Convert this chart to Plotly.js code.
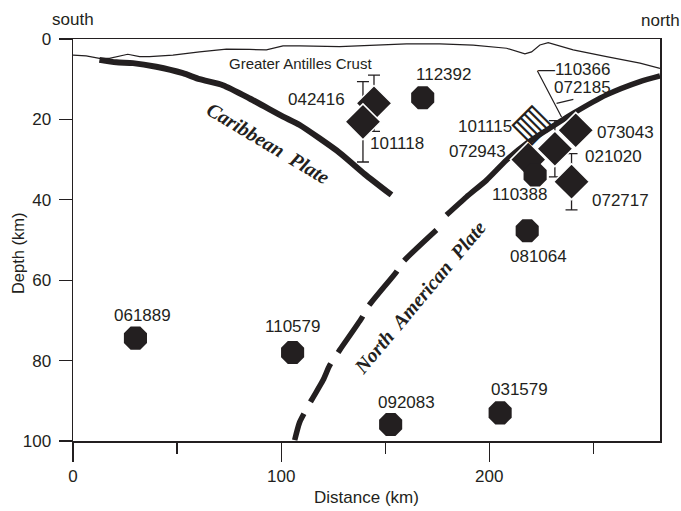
<!DOCTYPE html>
<html><head><meta charset="utf-8">
<script src="https://cdn.plot.ly/plotly-3.0.1.min.js"></script>
<style>html,body{margin:0;padding:0;background:#fff}</style>
</head><body><div id="chart" style="width:681px;height:511px"></div>
<script>
// ---- data ----
// earthquakes plotted as octagons (distance km, depth km)
const octNames = ['061889','110579','092083','031579','081064','112392','110388'];
const octX = [30.0, 105.5, 152.6, 205.2, 218.2, 168.0, 222.0];
const octY = [74.4, 78.0, 95.9, 93.0, 47.7, 14.6, 33.8];

// earthquakes plotted as diamonds, with depth uncertainty (km)
const diaNames = ['042416','101118','072943','021020','072717','073043'];
const diaX = [144.6, 139.3, 218.7, 231.5, 239.5, 241.5];
const diaY = [16.0, 20.6, 30.0, 27.3, 35.5, 22.7];
const diaErr = [7, 10, 0, 7, 7, 0];

// event drawn as hatched box
const boxNames = ['101115'];
const boxX = [219.5];
const boxY = [21.0];

// events labelled by leader lines
const leaderNames = ['110366','072185'];
const leaderX = [234.7, 232.3];
const leaderY = [19.4, 16.0];

// topography (top of Greater Antilles crust)
const surfX = [0, 6.3, 12.7, 17.5, 26.3, 32, 36.8, 48, 60.8, 73.7, 84.9, 92.9, 100.9, 108.9, 128.1, 144.1, 160.2, 176.2, 192.2, 208.3, 217.1, 220.3, 224.3, 228.3, 233.9, 240.3, 256.3, 272.4, 282];
const surfY = [4.0, 4.2, 4.8, 4.8, 3.8, 4.4, 4.4, 4.0, 3.2, 2.5, 2.6, 2.7, 1.7, 1.7, 1.9, 1.5, 1.2, 1.2, 1.5, 2.3, 3.7, 3.2, 1.5, 0.9, 1.7, 2.7, 4.4, 6.0, 7.3];

// Caribbean plate
const caribX = [12.7, 20.8, 28.8, 40.0, 52.8, 60.8, 72.0, 84.9, 100.9, 108.9, 128.1, 140.1, 153.0];
const caribY = [5.2, 5.8, 6.0, 6.9, 8.5, 10.0, 11.5, 14.8, 19.3, 21.4, 28.3, 33.6, 38.8];

// North American plate (solid, then inferred/dashed)
const naX = [282, 272.4, 256.3, 240.3, 227.5, 217.9, 208.3, 198.7, 189.0, 179.4];
const naY = [9.2, 10.6, 13.9, 18.5, 22.7, 26.0, 30.1, 35.1, 39.3, 43.8];
const naDashX = [174.6, 158.6, 155.4, 141.7, 138.6, 128.1, 123.3, 120.1, 114.5, 108.9, 106.5];
const naDashY = [47.5, 55.4, 57.9, 66.6, 69.5, 77.4, 81.2, 84.9, 89.9, 95.3, 99.8];

const xTickVals = [0, 100, 200];
const yTickVals = [0, 20, 40, 60, 80, 100];

// ---- styles ----
const INK = '#231f20';
const SANS = 'Liberation Sans, Arial, sans-serif';
const SERIF = 'Liberation Serif, Times New Roman, serif';
// label offsets in px [dx, dy(down)] relative to each event
const labelOffset = {
  '061889':[7,-23], '110579':[0,-26], '092083':[16,-22], '031579':[19,-23],
  '081064':[11,26], '112392':[21,-23], '110388':[-16,20],
  '042416':[-57,-4], '101118':[34,22], '072943':[-51,-8], '021020':[59,8],
  '072717':[49,19], '073043':[50,2], '101115':[-45,3]
};
const leaderTail = {'110366':[-25,-47.7], '072185':[18.3,-4.3]};
const leaderLabel = {'110366':{dx:-25, dy:-47.7, text:'—110366', anchor:'left'},
                     '072185':{dx:25.8, dy:-16, text:'072185', anchor:'center'}};

const traces = [
  {x: surfX, y: surfY, mode:'lines', line:{color:INK, width:1.2}, hoverinfo:'skip'},
  {x: caribX, y: caribY, mode:'lines', line:{color:INK, width:6, shape:'spline', smoothing:0.6}, hoverinfo:'skip'},
  {x: naX, y: naY, mode:'lines', line:{color:INK, width:5.5, shape:'spline', smoothing:0.6}, hoverinfo:'skip'},
  {x: naDashX, y: naDashY, mode:'lines', line:{color:INK, width:5.5, dash:'44px,13px', shape:'spline', smoothing:0.6}, hoverinfo:'skip'},
  {x: diaX, y: diaY, mode:'markers', text: diaNames,
   marker:{symbol:'diamond', size:27.5, color:INK, line:{color:'#fff', width:1.5}},
   error_y:{type:'data', array: diaErr, visible:true, color:INK, thickness:1.3, width:6}},
  {x: octX, y: octY, mode:'markers', text: octNames,
   marker:{symbol:'octagon', size:25, color:INK, line:{width:0}}}
];

const annotations = [];
function addLabel(name, x, y) {
  const o = labelOffset[name];
  annotations.push({x:x, y:y, xref:'x', yref:'y', text:name, showarrow:false,
    xshift:o[0], yshift:-o[1], font:{family:SANS, size:17, color:INK}});
}
octNames.forEach((n,i)=>addLabel(n, octX[i], octY[i]));
diaNames.forEach((n,i)=>addLabel(n, diaX[i], diaY[i]));
boxNames.forEach((n,i)=>{
  addLabel(n, boxX[i], boxY[i]);
  annotations.push({x:boxX[i], y:boxY[i], xref:'x', yref:'y', text:'▥', showarrow:false,
    textangle:-45, font:{family:'DejaVu Sans', size:38, color:INK}});
});
leaderNames.forEach((n,i)=>{
  const t = leaderTail[n], l = leaderLabel[n];
  annotations.push({x:leaderX[i], y:leaderY[i], xref:'x', yref:'y', text:'', showarrow:true,
    arrowhead:0, arrowwidth:1.2, arrowcolor:INK, ax:t[0], ay:t[1], standoff:0, startstandoff:0});
  annotations.push({x:leaderX[i], y:leaderY[i], xref:'x', yref:'y', text:l.text, showarrow:false,
    xanchor:l.anchor, xshift:l.dx, yshift:-l.dy, borderpad:0,
    font:{family:SANS, size:17, color:INK}});
});
// region labels
annotations.push({x:109.1, y:6.0, xref:'x', yref:'y', text:'Greater Antilles Crust', showarrow:false,
  font:{family:SANS, size:15, color:INK}});
annotations.push({x:93.7, y:25.8, xref:'x', yref:'y', text:'Caribbean&nbsp; Plate', showarrow:false,
  textangle:31, font:{family:SERIF, size:20, color:INK, weight:'bold', style:'italic'}});
annotations.push({x:166.6, y:64.1, xref:'x', yref:'y', text:'North&nbsp; American&nbsp; Plate', showarrow:false,
  textangle:-50, font:{family:SERIF, size:20, color:INK, weight:'bold', style:'italic'}});
annotations.push({x:0, y:1.049, xref:'paper', yref:'paper', text:'south', showarrow:false,
  xanchor:'center', yanchor:'middle', font:{family:SANS, size:17, color:INK}});
annotations.push({x:1, y:1.047, xref:'paper', yref:'paper', text:'north', showarrow:false,
  xanchor:'center', yanchor:'middle', font:{family:SANS, size:17, color:INK}});
// y-axis title placed to match the original figure
annotations.push({x:-0.094, y:0.467, xref:'paper', yref:'paper', text:'Depth (km)', showarrow:false,
  textangle:-90, xanchor:'center', yanchor:'middle', font:{family:SANS, size:16.5, color:INK}});

const layout = {
  width:681, height:511,
  margin:{l:73, r:21, t:39, b:70},
  paper_bgcolor:'#fff', plot_bgcolor:'#fff',
  showlegend:false,
  xaxis:{range:[0,282], tickvals:xTickVals, ticks:'outside', ticklen:19, tickwidth:1.3, tickcolor:INK,
    minor:{dtick:50, tick0:0, ticks:'outside', ticklen:11, tickwidth:1.3, tickcolor:INK},
    showgrid:false, zeroline:false, showline:true, mirror:true, linecolor:INK, linewidth:1.5,
    tickfont:{family:SANS, size:17, color:INK},
    title:{text:'Distance (km)', font:{family:SANS, size:17, color:INK}, standoff:6}},
  yaxis:{range:[100,0], tickvals:yTickVals, ticks:'outside', ticklen:13, tickwidth:1.3, tickcolor:INK,
    showgrid:false, zeroline:false, showline:true, mirror:true, linecolor:INK, linewidth:1.5,
    tickfont:{family:SANS, size:17, color:INK}, ticklabelstandoff:4},
  annotations: annotations
};
Plotly.newPlot('chart', traces, layout, {displayModeBar:false, staticPlot:true});
</script></body></html>
